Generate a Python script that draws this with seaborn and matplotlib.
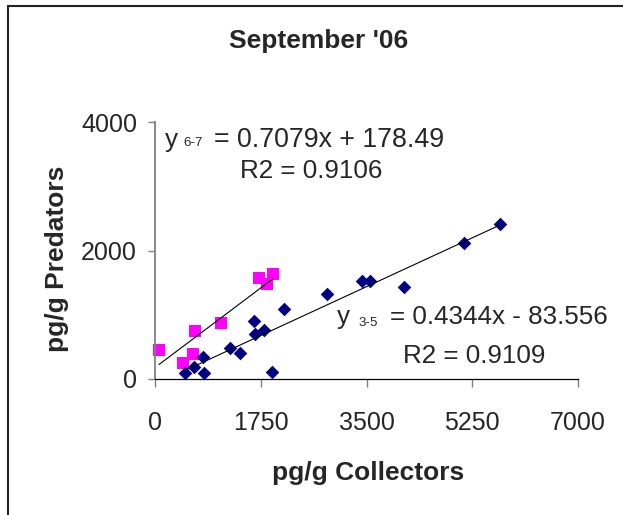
import matplotlib
matplotlib.use("Agg")
import matplotlib.pyplot as plt
from matplotlib.lines import Line2D
import seaborn as sns
import numpy as np
import pandas as pd

# ---- data ----
x_35 = [497, 645, 794, 811, 1241, 1407, 1639, 1655, 1804, 1936, 2135, 2847, 3425, 3565, 4122, 5115, 5712]
y_35 = [94, 188, 344, 94, 484, 406, 906, 703, 766, 109, 1094, 1328, 1533, 1523, 1430, 2118, 2412]
x_67 = [66, 460, 626, 662, 1092, 1721, 1850, 1950]
y_67 = [455, 252, 388, 750, 878, 1575, 1481, 1640]
slopes = [0.4344, 0.7079]
intercepts = [-83.556, 178.49]
x_ticks = [0, 1750, 3500, 5250, 7000]
y_ticks = [0, 2000, 4000]

W, H = 623, 515
def fx(px): return px / W
def fy(py): return 1 - py / H

sns.set_style("white")
plt.rcParams['font.family'] = ['Liberation Sans', 'DejaVu Sans']

fig = plt.figure(figsize=(W / 100, H / 100), dpi=100)
ax = fig.add_axes([fx(155), fy(379), (578 - 155) / W, (379 - 122) / H])

df67 = pd.DataFrame({"x": x_67, "y": y_67})
df35 = pd.DataFrame({"x": x_35, "y": y_35})
sns.scatterplot(data=df67, x="x", y="y", marker="s", s=80, color="#FF00FF",
                linewidth=0, ax=ax, clip_on=False, zorder=2)
sns.scatterplot(data=df35, x="x", y="y", marker="D", s=48, color="#000080",
                linewidth=0, ax=ax, clip_on=False, zorder=3)

for xs, m, b in [(x_35, slopes[0], intercepts[0]), (x_67, slopes[1], intercepts[1])]:
    lx = np.array([min(xs), max(xs)], dtype=float)
    sns.lineplot(x=lx, y=m * lx + b, color="black", linewidth=0.8, ax=ax, zorder=4)

ax.set_xlim(0, 7000)
ax.set_ylim(0, 4000)
ax.set_xticks(x_ticks)
ax.set_yticks(y_ticks)
ax.set_xticklabels([str(t) for t in x_ticks])
ax.set_yticklabels([str(t) for t in y_ticks])
ax.set_xlabel("")
ax.set_ylabel("")
for s in ["top", "right"]:
    ax.spines[s].set_visible(False)
ax.spines["left"].set_color("#808080")
ax.spines["left"].set_linewidth(1.3)
ax.spines["bottom"].set_color("black")
ax.spines["bottom"].set_linewidth(0.9)
ax.tick_params(axis="y", direction="out", length=5, width=1, color="#808080",
               pad=8, labelsize=18, left=True)
ax.tick_params(axis="x", direction="out", length=6, width=1, color="#808080",
               pad=17, labelsize=18, bottom=True)
ax.patch.set_alpha(0)

# ---- texts ----
fig.text(fx(319), fy(48), "September '06", ha="center", va="baseline",
         fontsize=19, fontweight="bold")
fig.text(fx(368), fy(480), "pg/g Collectors", ha="center", va="baseline",
         fontsize=19, fontweight="bold")
fig.text(fx(57.5), fy(259), "pg/g Predators", ha="center", va="center",
         rotation=90, fontsize=19, fontweight="bold")

eq_font = dict(fontsize=18.7, va="baseline", ha="left")
sub_font = dict(fontsize=9.6, va="baseline", ha="left")

fig.text(fx(165), fy(147), "y", **eq_font)
fig.text(fx(183), fy(146), "6-7", **sub_font)
fig.text(fx(214), fy(147), "= 0.7079x + 178.49", fontsize=19.3, va="baseline", ha="left")
fig.text(fx(240), fy(178), "R2 = 0.9106", **eq_font)

fig.text(fx(337), fy(324), "y", **eq_font)
fig.text(fx(358), fy(326), "3-5", **sub_font)
fig.text(fx(390), fy(324), "= 0.4344x - 83.556", **eq_font)
fig.text(fx(403), fy(363), "R2 = 0.9109", **eq_font)

# ---- outer frame (top and left edges visible) ----
fig.add_artist(Line2D([fx(8), 1.0], [fy(6), fy(6)], color="#222222", linewidth=1.5))
fig.add_artist(Line2D([fx(8), fx(8)], [fy(6), 0.0], color="#222222", linewidth=1.5))

fig.savefig("out.png", dpi=100)
